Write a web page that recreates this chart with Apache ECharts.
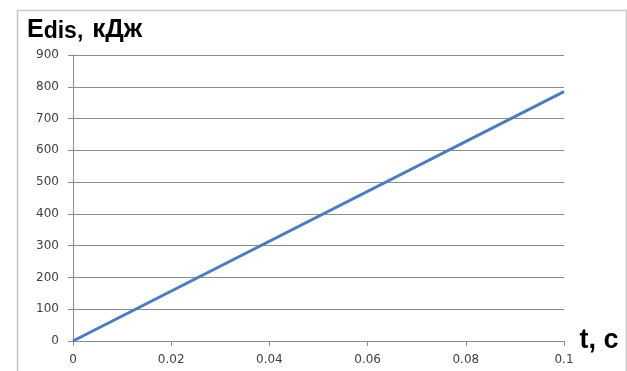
<!DOCTYPE html>
<html>
<head>
<meta charset="utf-8">
<script src="https://cdn.jsdelivr.net/npm/echarts@6/dist/echarts.min.js"></script>
<style>html,body{margin:0;padding:0;background:#fff}#c{width:627px;height:371px}</style>
</head>
<body>
<div id="c"></div>
<script>
// Data
const tValues = [0, 0.1];
const eValues = [0, 785];
const yTitle = ['E', 'dis,', 'кДж'];
const xTitle = 't, c';

const chart = echarts.init(document.getElementById('c'), null, {renderer: 'canvas'});
const gray = '#8c8c8c';
const labelFont = {color: '#404040', fontSize: 12, fontFamily: 'DejaVu Sans'};
const titleBase = {fontWeight: 'bold', fontFamily: 'Liberation Sans', color: '#000', verticalAlign: 'bottom'};
chart.setOption({
  animation: false,
  backgroundColor: '#fff',
  graphic: [{
    type: 'rect', left: 15, top: 8, shape: {x: 0, y: 0, width: 609, height: 380},
    style: {fill: 'none', stroke: '#c8c8c8', lineWidth: 1.5}, silent: true
  }],
  title: {
    text: '{a|' + yTitle[0] + '}{b|' + yTitle[1] + '}{c|' + yTitle[2] + '}', left: 22, top: 12,
    textStyle: {
      rich: {
        a: Object.assign({fontSize: 25, lineHeight: 25}, titleBase),
        b: Object.assign({fontSize: 23, lineHeight: 23}, titleBase),
        c: Object.assign({fontSize: 26, lineHeight: 26, padding: [0, 0, 0, 9]}, titleBase)
      }
    }
  },
  grid: {left: 73, right: 63, top: 55, bottom: 30, containLabel: false},
  xAxis: {
    type: 'value', min: 0, max: 0.1, interval: 0.02,
    name: xTitle, nameLocation: 'end', nameGap: 12,
    nameTextStyle: {fontSize: 27, fontWeight: 'bold', fontFamily: 'Liberation Sans', color: '#000', verticalAlign: 'middle', padding: [4, 0, 0, 0]},
    axisLine: {show: true, lineStyle: {color: gray, width: 1}},
    axisTick: {show: true, length: 5, lineStyle: {color: gray}},
    axisLabel: Object.assign({margin: 13}, labelFont),
    splitLine: {show: false}
  },
  yAxis: {
    type: 'value', min: 0, max: 900, interval: 100,
    axisLine: {show: true, lineStyle: {color: gray, width: 1}},
    axisTick: {show: true, length: 5, lineStyle: {color: gray}},
    axisLabel: Object.assign({margin: 14}, labelFont),
    splitLine: {show: true, lineStyle: {color: gray, width: 1}}
  },
  series: [{
    type: 'line',
    data: tValues.map((t, i) => [t, eValues[i]]),
    showSymbol: false,
    lineStyle: {color: '#4a7ebb', width: 3},
    itemStyle: {color: '#4a7ebb'}
  }]
});
</script>
</body>
</html>
